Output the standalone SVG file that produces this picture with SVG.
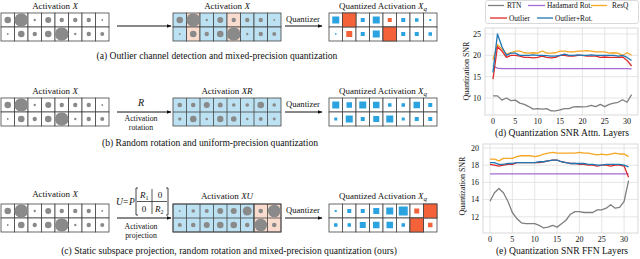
<svg xmlns="http://www.w3.org/2000/svg" width="640" height="259" viewBox="0 0 640 259">
<style>
text{font-family:"Liberation Serif","Times New Roman",serif;fill:#111}
.lbl{font-size:9px;text-anchor:middle}
.cap{font-size:9.6px;text-anchor:middle}
.sm{font-size:7.8px;text-anchor:middle}
.q{font-size:8.6px;text-anchor:middle}
.it{font-style:italic}
.cw{fill:#fff;stroke:#444;stroke-width:0.8}
.cb{fill:#bce1f2;stroke:#444;stroke-width:0.8}
.cp{fill:#f9dccd;stroke:#444;stroke-width:0.8}
.co{fill:#f4623a;stroke:#444;stroke-width:0.8}
.d{fill:#8a8a8a}
.bs{fill:#2aa3e0}
.os{fill:#f4623a}
.arr{stroke:#111;stroke-width:1;fill:none;marker-end:url(#ah)}
.grid{stroke:#dedede;stroke-width:0.8}
.frame{fill:none;stroke:#cfcfcf;stroke-width:0.8}
.tk{font-size:8px}
.ln{fill:none;stroke-width:1.3;vector-effect:non-scaling-stroke;stroke-linejoin:round}
.rtn{stroke:#7f7f7f}.had{stroke:#a56ad6}.resq{stroke:#f5a623}.out{stroke:#e02a2a}.orot{stroke:#1f77b4}
.lg{font-size:7.4px}
</style>
<defs>
<marker id="ah" viewBox="0 0 10 10" refX="9" refY="5" markerWidth="5" markerHeight="5" orient="auto"><path d="M0,1 L10,5 L0,9 z" fill="#111"/></marker>
<g id="cellsW">
<rect class="cw" x="0" y="0" width="13.5" height="14"/><rect class="cw" x="13.5" y="0" width="13.5" height="14"/><rect class="cw" x="27" y="0" width="13.5" height="14"/><rect class="cw" x="40.5" y="0" width="13.5" height="14"/><rect class="cw" x="54" y="0" width="13.5" height="14"/><rect class="cw" x="67.5" y="0" width="13.5" height="14"/><rect class="cw" x="81" y="0" width="13.5" height="14"/><rect class="cw" x="94.5" y="0" width="13.5" height="14"/>
<rect class="cw" x="0" y="14" width="13.5" height="14"/><rect class="cw" x="13.5" y="14" width="13.5" height="14"/><rect class="cw" x="27" y="14" width="13.5" height="14"/><rect class="cw" x="40.5" y="14" width="13.5" height="14"/><rect class="cw" x="54" y="14" width="13.5" height="14"/><rect class="cw" x="67.5" y="14" width="13.5" height="14"/><rect class="cw" x="81" y="14" width="13.5" height="14"/><rect class="cw" x="94.5" y="14" width="13.5" height="14"/>
</g>
<g id="dotsX">
<circle class="d" cx="6.75" cy="7" r="3.3"/><circle class="d" cx="20.25" cy="7" r="6.8"/><circle class="d" cx="33.75" cy="7" r="1.2"/><circle class="d" cx="47.25" cy="7" r="3"/><circle class="d" cx="60.75" cy="7" r="2.2"/><circle class="d" cx="74.25" cy="7" r="2.2"/><circle class="d" cx="87.75" cy="7" r="2.2"/><circle class="d" cx="101.25" cy="7" r="0.9"/>
<circle class="d" cx="6.75" cy="21" r="0.9"/><circle class="d" cx="20.25" cy="21" r="3.3"/><circle class="d" cx="33.75" cy="21" r="2.2"/><circle class="d" cx="47.25" cy="21" r="3.3"/><circle class="d" cx="60.75" cy="21" r="6.8"/><circle class="d" cx="74.25" cy="21" r="1.2"/><circle class="d" cx="87.75" cy="21" r="2.2"/><circle class="d" cx="101.25" cy="21" r="2"/>
</g>
</defs>

<!-- Row (a) -->
<g id="a-x">
<text class="lbl" x="55" y="9">Activation <tspan class="it">X</tspan></text>
<use href="#cellsW" x="1" y="13"/><use href="#dotsX" x="1" y="13"/>
</g>
<g id="a-xmid" transform="translate(173,13)">
<text class="lbl" x="54" y="-4">Activation <tspan class="it">X</tspan></text>
<rect class="cb" x="0" y="0" width="13.5" height="14"/><rect class="cp" x="13.5" y="0" width="13.5" height="14"/><rect class="cb" x="27" y="0" width="13.5" height="14"/><rect class="cb" x="40.5" y="0" width="13.5" height="14"/><rect class="cp" x="54" y="0" width="13.5" height="14"/><rect class="cb" x="67.5" y="0" width="13.5" height="14"/><rect class="cb" x="81" y="0" width="13.5" height="14"/><rect class="cb" x="94.5" y="0" width="13.5" height="14"/>
<rect class="cb" x="0" y="14" width="13.5" height="14"/><rect class="cp" x="13.5" y="14" width="13.5" height="14"/><rect class="cb" x="27" y="14" width="13.5" height="14"/><rect class="cb" x="40.5" y="14" width="13.5" height="14"/><rect class="cp" x="54" y="14" width="13.5" height="14"/><rect class="cb" x="67.5" y="14" width="13.5" height="14"/><rect class="cb" x="81" y="14" width="13.5" height="14"/><rect class="cb" x="94.5" y="14" width="13.5" height="14"/>
<use href="#dotsX"/>
</g>
<g id="a-q" transform="translate(329,13)">
<text class="lbl" x="54" y="-4">Quantized Activation <tspan class="it">X</tspan><tspan class="it" font-size="7" dy="2">q</tspan></text>
<use href="#cellsW"/>
<rect class="co" x="13.5" y="0" width="13.5" height="14"/><rect class="co" x="54" y="14" width="13.5" height="14"/>
<rect class="bs" x="3.25" y="3.5" width="7" height="7"/><rect class="bs" x="31.75" y="5" width="4" height="4"/><rect class="bs" x="43.75" y="3.5" width="7" height="7"/><rect class="os" x="58.75" y="5" width="4" height="4"/><rect class="bs" x="72.25" y="5" width="4" height="4"/><rect class="bs" x="86" y="5.25" width="3.5" height="3.5"/><rect class="bs" x="100.25" y="6" width="2" height="2"/>
<rect class="bs" x="6" y="20.25" width="1.5" height="1.5"/><rect class="os" x="17.25" y="18" width="6" height="6"/><rect class="bs" x="31.75" y="19" width="4" height="4"/><rect class="bs" x="43.75" y="17.5" width="7" height="7"/><rect class="bs" x="72.25" y="19" width="4" height="4"/><rect class="bs" x="85.75" y="19" width="4" height="4"/><rect class="bs" x="99.5" y="19.25" width="3.5" height="3.5"/>
</g>

<!-- Row (b) -->
<g id="b-x">
<text class="lbl" x="55" y="94">Activation <tspan class="it">X</tspan></text>
<use href="#cellsW" x="1" y="98"/><use href="#dotsX" x="1" y="98"/>
</g>
<g id="b-xr" transform="translate(173,98)">
<text class="lbl" x="54" y="-4">Activation <tspan class="it">XR</tspan></text>
<rect class="cb" x="0" y="0" width="108" height="28"/>
<path d="M13.5,0V28M27,0V28M40.5,0V28M54,0V28M67.5,0V28M81,0V28M94.5,0V28M0,14H108" stroke="#444" stroke-width="0.8"/>
<circle class="d" cx="6.75" cy="7" r="2.3"/><circle class="d" cx="20.25" cy="7" r="2.3"/><circle class="d" cx="33.75" cy="7" r="3"/><circle class="d" cx="47.25" cy="7" r="2.5"/><circle class="d" cx="60.75" cy="7" r="1.8"/><circle class="d" cx="74.25" cy="7" r="1.8"/><circle class="d" cx="87.75" cy="7" r="3.3"/><circle class="d" cx="101.25" cy="7" r="1.8"/>
<circle class="d" cx="6.75" cy="21" r="1.7"/><circle class="d" cx="20.25" cy="21" r="3.3"/><circle class="d" cx="33.75" cy="21" r="1.3"/><circle class="d" cx="47.25" cy="21" r="3.2"/><circle class="d" cx="60.75" cy="21" r="2.8"/><circle class="d" cx="74.25" cy="21" r="1.3"/><circle class="d" cx="87.75" cy="21" r="2"/><circle class="d" cx="101.25" cy="21" r="1.4"/>
</g>
<g id="b-q" transform="translate(329,98)">
<text class="lbl" x="54" y="-4">Quantized Activation <tspan class="it">X</tspan><tspan class="it" font-size="7" dy="2">q</tspan></text>
<use href="#cellsW"/>
<rect class="bs" x="3.25" y="3.5" width="7" height="7"/><rect class="bs" x="17.5" y="4.25" width="5.5" height="5.5"/><rect class="bs" x="30.25" y="3.5" width="7" height="7"/><rect class="bs" x="44" y="3.75" width="6.5" height="6.5"/><rect class="bs" x="59" y="5.25" width="3.5" height="3.5"/><rect class="bs" x="72.5" y="5.25" width="3.5" height="3.5"/><rect class="bs" x="84.5" y="3.75" width="6.5" height="6.5"/><rect class="bs" x="99.25" y="5" width="4" height="4"/>
<rect class="bs" x="5.25" y="19.5" width="3" height="3"/><rect class="bs" x="16.75" y="17.5" width="7" height="7"/><rect class="bs" x="31.75" y="19" width="4" height="4"/><rect class="bs" x="44.25" y="18" width="6" height="6"/><rect class="bs" x="57.25" y="17.5" width="7" height="7"/><rect class="bs" x="72.75" y="19.5" width="3" height="3"/><rect class="bs" x="85.75" y="19" width="4" height="4"/><rect class="bs" x="99.25" y="19" width="4" height="4"/>
</g>

<!-- Row (c) -->
<g id="c-x">
<text class="lbl" x="55" y="197">Activation <tspan class="it">X</tspan></text>
<use href="#cellsW" x="1" y="204"/><use href="#dotsX" x="1" y="204"/>
</g>
<g id="c-xu" transform="translate(173,204)">
<text class="lbl" x="54" y="-5">Activation <tspan class="it">XU</tspan></text>
<rect class="cb" x="0" y="0" width="81" height="28"/>
<rect class="cp" x="81" y="0" width="27" height="28"/>
<path d="M13.5,0V28M27,0V28M40.5,0V28M54,0V28M67.5,0V28M81,0V28M94.5,0V28M0,14H108" stroke="#444" stroke-width="0.8"/>
<rect x="0" y="0" width="108" height="28" fill="none" stroke="#444" stroke-width="0.8"/>
<circle class="d" cx="6.75" cy="7" r="0.9"/><circle class="d" cx="20.25" cy="7" r="1.8"/><circle class="d" cx="33.75" cy="7" r="2"/><circle class="d" cx="47.25" cy="7" r="3"/><circle class="d" cx="60.75" cy="7" r="3"/><circle class="d" cx="74.25" cy="7" r="4.5"/><circle class="d" cx="87.75" cy="7" r="2.3"/><circle class="d" cx="101.25" cy="7" r="6.3"/>
<circle class="d" cx="6.75" cy="21" r="2"/><circle class="d" cx="20.25" cy="21" r="2.3"/><circle class="d" cx="33.75" cy="21" r="3"/><circle class="d" cx="47.25" cy="21" r="3.3"/><circle class="d" cx="60.75" cy="21" r="3.3"/><circle class="d" cx="74.25" cy="21" r="2.3"/><circle class="d" cx="87.75" cy="21" r="6.3"/><circle class="d" cx="101.25" cy="21" r="2.3"/>
</g>
<g id="c-q" transform="translate(329,204)">
<text class="lbl" x="54" y="-5">Quantized Activation <tspan class="it">X</tspan><tspan class="it" font-size="7" dy="2">q</tspan></text>
<use href="#cellsW"/>
<rect class="co" x="94.5" y="0" width="13.5" height="14"/><rect class="co" x="81" y="14" width="13.5" height="14"/>
<rect class="bs" x="5.75" y="6" width="2" height="2"/><rect class="bs" x="18.25" y="5" width="4" height="4"/><rect class="bs" x="31.75" y="5" width="4" height="4"/><rect class="bs" x="44.25" y="4" width="6" height="6"/><rect class="bs" x="57.25" y="3.5" width="7" height="7"/><rect class="bs" x="69.75" y="2.5" width="9" height="9"/><rect class="os" x="85.25" y="4.5" width="5" height="5"/>
<rect class="bs" x="5" y="19.25" width="3.5" height="3.5"/><rect class="bs" x="18.5" y="19.25" width="3.5" height="3.5"/><rect class="bs" x="30.75" y="18" width="6" height="6"/><rect class="bs" x="44" y="17.75" width="6.5" height="6.5"/><rect class="bs" x="57.5" y="17.75" width="6.5" height="6.5"/><rect class="bs" x="72.5" y="19.25" width="3.5" height="3.5"/><rect class="os" x="99" y="18.75" width="4.5" height="4.5"/>
</g>

<!-- Matrix label (c) -->
<g id="c-matrix">
<text x="116" y="205" font-size="9.5" class="it">U</text><text x="123" y="205" font-size="9.5">=</text><text x="129" y="205" font-size="9.5" class="it">P</text>
<path d="M138,188 H136 V215 H138 M166,188 H168 V215 H166" fill="none" stroke="#111" stroke-width="0.8"/>
<path d="M152,189 V214" stroke="#111" stroke-width="0.7"/>
<path d="M137,201.5 H167" stroke="#111" stroke-width="0.7"/>
<text x="140" y="198" font-size="9" class="it">R<tspan font-size="6" dy="2" font-style="normal">1</tspan></text>
<text x="160" y="198" font-size="9" text-anchor="middle">0</text>
<text x="144" y="212" font-size="9" text-anchor="middle">0</text>
<text x="155" y="212" font-size="9" class="it">R<tspan font-size="6" dy="2" font-style="normal">2</tspan></text>
</g>

<!-- Connectors -->
<g id="connectors">
<line class="arr" x1="117" y1="26" x2="171" y2="26"/>
<line class="arr" x1="285" y1="26" x2="322" y2="26"/>
<text class="q" x="303" y="21.5">Quantizer</text>
<line class="arr" x1="117" y1="112" x2="171" y2="112"/>
<text x="141" y="106" font-size="10" class="it" text-anchor="middle">R</text>
<text class="sm" x="141" y="121">Activation</text>
<text class="sm" x="141" y="130">rotation</text>
<line class="arr" x1="285" y1="112" x2="322" y2="112"/>
<text class="q" x="303" y="107">Quantizer</text>
<line class="arr" x1="117" y1="218" x2="171" y2="218"/>
<text class="sm" x="141" y="229">Activation</text>
<text class="sm" x="141" y="238">projection</text>
<line class="arr" x1="285" y1="218" x2="322" y2="218"/>
<text class="q" x="303" y="213">Quantizer</text>
</g>

<!-- Captions -->
<text class="cap" x="217" y="59">(a) Outlier channel detection and mixed-precision quantization</text>
<text class="cap" x="210" y="146">(b) Random rotation and uniform-precision quantization</text>
<text class="cap" x="229" y="253.5">(c) Static subspace projection, random rotation and mixed-precision quantization (ours)</text>

<!-- Legend -->
<g id="legend">
<rect x="485.5" y="0.5" width="153" height="23" rx="2" fill="#fff" stroke="#d0d0d0" stroke-width="0.8"/>
<line x1="488" y1="5.5" x2="504" y2="5.5" class="ln rtn"/><text class="lg" x="507" y="8">RTN</text>
<line x1="528" y1="5.5" x2="545" y2="5.5" class="ln had"/><text class="lg" x="547" y="8">Hadamard Rot.</text>
<line x1="591" y1="5.5" x2="607" y2="5.5" class="ln resq"/><text class="lg" x="612" y="8">ResQ</text>
<line x1="490" y1="18" x2="507" y2="18" class="ln out"/><text class="lg" x="509" y="20.5">Outlier</text>
<line x1="537" y1="18" x2="553" y2="18" class="ln orot"/><text class="lg" x="555" y="20.5">Outlier+Rot.</text>
</g>

<!-- Chart (d) -->
<g id="chart-d">
<path class="grid" d="M485,98H638M485,76.65H638M485,55.3H638M485,33.95H638M493,28V115M515.35,28V115M537.7,28V115M560.05,28V115M582.4,28V115M604.75,28V115M627.1,28V115"/>
<rect class="frame" x="485" y="28" width="153" height="87"/>
<g class="tk" text-anchor="end"><text x="481" y="100.8">10</text><text x="481" y="79.5">15</text><text x="481" y="58.1">20</text><text x="481" y="36.8">25</text></g>
<g class="tk" text-anchor="middle"><text x="493" y="124">0</text><text x="515.35" y="124">5</text><text x="537.7" y="124">10</text><text x="560.05" y="124">15</text><text x="582.4" y="124">20</text><text x="604.75" y="124">25</text><text x="627.1" y="124">30</text></g>
<text class="tk" text-anchor="middle" transform="translate(469,71) rotate(-90)">Quantization SNR</text>
<g transform="matrix(4.47 0 0 -4.27 493 140.7)">
<polyline class="ln rtn" points="0,10.5 1,10.5 2,9.5 3,10 4,9.4 5,9.5 6,8.8 7,8.5 8,8 9,7.4 10,7.5 11,7.4 12,7.5 13,7 14,7 15,7.2 16,7.5 17,7.5 18,7.9 19,8 20,7.9 21,8 22,8.3 23,8 24,8.5 25,8 26,8.5 27,8.8 28,9 29,9.6 30,9 31,10.8"/>
<polyline class="ln had" points="0,17.5 1,17 2,16.9 5,16.9 10,16.9 15,16.9 20,16.9 25,16.9 30,16.9 31,16.8"/>
<polyline class="ln resq" points="0,19 1,22.5 2,21.5 3,20.3 4,20.6 5,21 6,21 7,20.6 8,20.5 9,20.6 10,20.5 11,21 12,20.5 13,20.5 14,20.6 15,21 16,21 17,20.8 18,20.8 19,21 20,21 21,21.1 22,21 23,20.8 24,20.8 25,20.8 26,20.5 27,20.6 28,20.5 29,20 30,20.6 31,20"/>
<polyline class="ln out" points="0,14.4 1,22 2,21 3,19.5 4,20 5,20 6,19.8 7,19.5 8,19.5 9,19.4 10,19.5 11,19.8 12,19.5 13,19.4 14,19.5 15,20 16,20 17,19.8 18,19.8 19,20 20,20 21,19.8 22,19.8 23,19.8 24,19.5 25,19.6 26,19.5 27,19.5 28,19.5 29,19.6 30,18.8 31,17.5"/>
<polyline class="ln orot" points="0,16 1,25 2,22 3,20 4,20.5 5,20.5 6,20 7,20 8,20 9,20.1 10,20 11,20 12,19.9 13,19.8 14,19.8 15,20 16,20.3 17,20 18,20 19,20.1 20,20 21,20 22,20.1 23,20 24,20 25,20 26,20 27,20 28,19.8 29,20 30,19.5 31,18.8"/>
</g>
<text class="cap" x="562" y="136">(d) Quantization SNR Attn. Layers</text>
</g>

<!-- Chart (e) -->
<g id="chart-e">
<path class="grid" d="M483,216.8H638M483,199.6H638M483,182.4H638M483,165.2H638M483,148H638M490,144V233M512.35,144V233M534.7,144V233M557.05,144V233M579.4,144V233M601.75,144V233M624.1,144V233"/>
<rect class="frame" x="483" y="144" width="155" height="89"/>
<g class="tk" text-anchor="end"><text x="479" y="219.6">12</text><text x="479" y="202.4">14</text><text x="479" y="185.2">16</text><text x="479" y="168">18</text><text x="479" y="150.8">20</text></g>
<g class="tk" text-anchor="middle"><text x="490" y="242">0</text><text x="512.35" y="242">5</text><text x="534.7" y="242">10</text><text x="557.05" y="242">15</text><text x="579.4" y="242">20</text><text x="601.75" y="242">25</text><text x="624.1" y="242">30</text></g>
<text class="tk" text-anchor="middle" transform="translate(465,186) rotate(-90)">Quantization SNR</text>
<g transform="matrix(4.47 0 0 -8.6 490 320)">
<polyline class="ln rtn" points="0,13.8 1,14.8 2,15.3 3,14.8 4,13.8 5,12.5 6,11.8 7,11.3 8,11.2 9,11.2 10,11.2 11,11 12,10.7 13,10.8 14,11 15,10.8 16,11.2 17,11.6 18,12.3 19,12.6 20,12.6 21,12.5 22,12.5 23,12.5 24,12.8 25,12.8 26,13 27,13.4 28,13 29,13.1 30,13.8 31,16.2"/>
<polyline class="ln had" points="0,17 31,17"/>
<polyline class="ln resq" points="0,18.7 1,18.7 2,18.5 3,18.8 4,18.8 5,18.8 6,19 7,19.1 8,19.1 9,19.1 10,19 11,19.1 12,19.3 13,19.4 14,19.5 15,19.4 16,19.4 17,19.4 18,19.4 19,19.4 20,19.5 21,19.4 22,19.4 23,19.3 24,19.2 25,19.3 26,19.2 27,19.3 28,19.4 29,19.3 30,19.3 31,19"/>
<polyline class="ln out" points="0,18.1 1,18 2,17.9 3,18 4,18.1 5,18.1 6,18.3 7,18.3 8,18.3 9,18.3 10,18.3 11,18.3 12,18.4 13,18.5 14,18.6 15,18.6 16,18.4 17,18.3 18,18.2 19,18.2 20,18.1 21,18.1 22,18 23,18 24,17.9 25,18 26,18 27,17.9 28,18 29,18 30,17.9 31,16.6"/>
<polyline class="ln orot" points="0,18.3 1,18.3 2,18.1 3,18.1 4,18.2 5,18.2 6,18.3 7,18.3 8,18.3 9,18.3 10,18.3 11,18.4 12,18.4 13,18.5 14,18.6 15,18.6 16,18.4 17,18.3 18,18.2 19,18.2 20,18.2 21,18.2 22,18.1 23,18.1 24,18 25,18 26,18.1 27,18.1 28,18.1 29,18.1 30,18 31,17.8"/>
</g>
<text class="cap" x="562" y="254">(e) Quantization SNR FFN Layers</text>
</g>
</svg>
